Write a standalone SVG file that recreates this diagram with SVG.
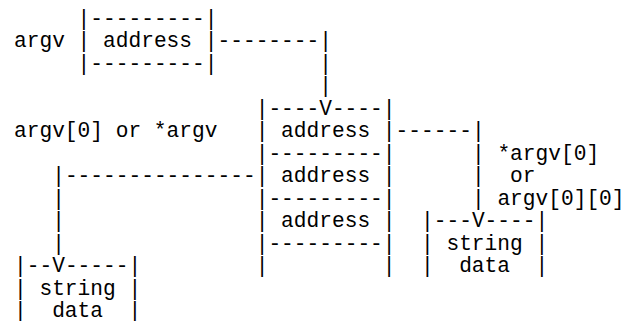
<svg xmlns="http://www.w3.org/2000/svg" width="633" height="321" viewBox="0 0 633 321" xml:space="preserve">
<style>
text { font-family: "Liberation Mono", "Courier New", monospace; font-size: 21.2px; fill: #000; white-space: pre; }
</style>
<rect width="633" height="321" fill="#fff"/>
<g id="labels">
  <text x="14" y="47">argv</text>
  <text x="14" y="137">argv[0] or *argv</text>
  <text x="497.4" y="159.5">*argv[0]</text>
  <text x="510.1" y="182">or</text>
  <text x="497.4" y="204.5">argv[0][0]</text>
</g>
<g id="argv-box">
  <text x="77.6" y="24.5">|---------|</text>
  <text x="77.6" y="47">| address |</text>
  <text x="77.6" y="69.5">|---------|</text>
</g>
<g id="argv-array">
  <text x="255.7" y="114.5">|----</text>
  <text x="331.9" y="114.5">----|</text>
  <text x="255.7" y="137">| address |</text>
  <text x="255.7" y="159.5">|---------|</text>
  <text x="255.7" y="182">| address |</text>
  <text x="255.7" y="204.5">|---------|</text>
  <text x="255.7" y="227">| address |</text>
  <text x="255.7" y="249.5">|---------|</text>
  <text x="255.7" y="272">|         |</text>
</g>
<g id="string-data-1">
  <text x="14" y="272">|--</text>
  <text x="64.9" y="272">-----|</text>
  <text x="14" y="294.5">| string |</text>
  <text x="14" y="317">|  data  |</text>
</g>
<g id="string-data-2">
  <text x="421" y="227">|---</text>
  <text x="484.6" y="227">----|</text>
  <text x="421" y="249.5">| string |</text>
  <text x="421" y="272">|  data  |</text>
</g>
<g id="connectors">
  <text x="217.5" y="47">--------|</text>
  <text x="319.3" y="69.5">|</text>
  <text x="319.3" y="92">|</text>
  <text x="319.3" y="114.5">V</text>
  <text x="395.6" y="137">------|</text>
  <text x="471.9" y="159.5">|</text>
  <text x="471.9" y="182">|</text>
  <text x="471.9" y="204.5">|</text>
  <text x="471.9" y="227">V</text>
  <text x="52.2" y="182">|---------------</text>
  <text x="52.2" y="204.5">|</text>
  <text x="52.2" y="227">|</text>
  <text x="52.2" y="249.5">|</text>
  <text x="52.2" y="272">V</text>
</g>
</svg>
